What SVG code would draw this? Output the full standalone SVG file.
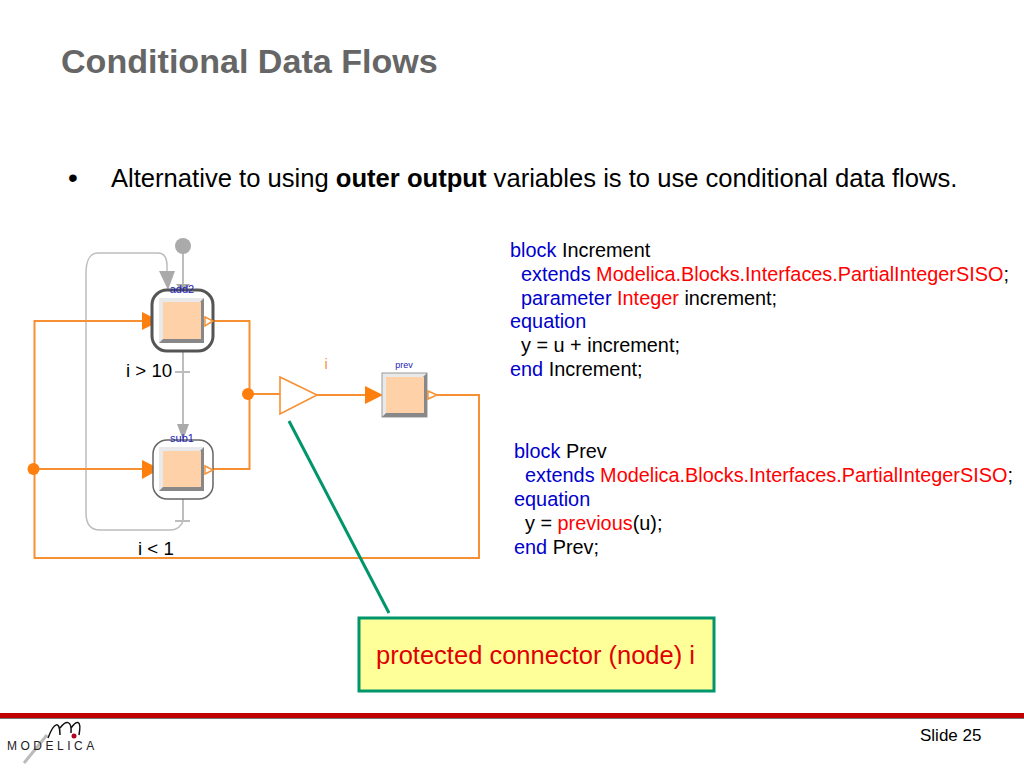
<svg xmlns="http://www.w3.org/2000/svg" width="1024" height="768" viewBox="0 0 1024 768">
<style>
text{font-family:"Liberation Sans",Arial,sans-serif}
.t{font-size:19.880px;fill:#000}
.b{fill:#0000cc}
.r{fill:#ff0000}
.or{fill:none;stroke:#f79032;stroke-width:2}
.gr{fill:none;stroke:#bdbdbd;stroke-width:2}
.ah{fill:#ff7f0e}
.gah{fill:#aaaaaa}
.dot{fill:#ff7f0e}
.face{fill:#ffd1a8}
.nm{font-size:11px;fill:#2222bb;text-anchor:middle}
.lab{font-size:18.700px;fill:#000}
.op{fill:#fff;stroke:#f79032;stroke-width:1.5}
</style>
<rect width="1024" height="768" fill="#fff"/>
<text x="61" y="73" font-size="34.100" font-weight="bold" fill="#666666">Conditional Data Flows</text>
<text x="68" y="187" font-size="28" fill="#000">•</text>
<text x="111" y="187" font-size="25.600" fill="#000">Alternative to using <tspan font-weight="bold">outer output</tspan> variables is to use conditional data flows.</text>

<g id="connectors">
<path class="gr" stroke-width="1.500" style="stroke-width:1.500" d="M86 513V273C86 261 90 253 98 253H158C164 253 167 258 167 266V272M86 513C86 524 90 530 100 530H170C177 530 181 527 183 521"/>
<path class="gr" d="M183 246V290M183 351V440M183 499V521"/>
<path class="gr" d="M175 372H190M175 521H190"/>
<path class="or" d="M143 321H34.500V558H479V395H437"/>
<path class="or" d="M34 469H143"/>
<path class="or" d="M213 321H249.500V469H213"/>
<path class="or" d="M249 394H280M317 395H365"/>
<polygon class="gah" points="159,271 175,271 168,290"/>
<polygon class="gah" points="176,284 190,284 183,293"/>
<polygon class="gah" points="177,424 189,424 183,440"/>
<polygon class="ah" points="142,312 160,321 142,330"/>
<polygon class="ah" points="142,460 160,469 142,479"/>
<polygon class="ah" points="365,386 383,395 365,404"/>
<circle class="gah" cx="183" cy="246" r="8"/>
<circle class="dot" cx="248" cy="394" r="6"/>
<circle class="dot" cx="33.500" cy="469" r="6"/>
<path d="M289 421L389 613" fill="none" stroke="#00956b" stroke-width="3"/>
</g>

<g id="add2">
<rect x="152" y="290" width="61" height="61" rx="15" fill="#fff" stroke="#555" stroke-width="3"/>
<rect x="159" y="298" width="45" height="45" fill="#e9e9e9"/>
<path d="M204 298V343H159L163 339H200V302Z" fill="#888"/>
<rect x="163" y="302" width="38" height="37" class="face"/>
<polygon class="op" points="205,317 213,321 205,326"/>
<text class="nm" x="182" y="293">add2</text>
</g>
<g id="sub1">
<rect x="153" y="440" width="60" height="59" rx="14" fill="#fff" stroke="#666" stroke-width="1.500"/>
<rect x="159" y="447" width="45" height="44" fill="#e9e9e9"/>
<path d="M204 447V491H159L163 487H200V451Z" fill="#888"/>
<rect x="163" y="451" width="38" height="36" class="face"/>
<polygon class="op" points="205,466 213,470 205,474"/>
<text class="nm" x="182" y="442">sub1</text>
</g>
<g id="i">
<polygon points="280,377 317,395 280,414" fill="#fff" stroke="#f79032" stroke-width="1.600"/>
<text x="326" y="369" font-size="14" fill="#f79032" text-anchor="middle">i</text>
</g>
<g id="prev">
<rect x="382" y="373" width="45" height="44" fill="#e9e9e9" stroke="#999" stroke-width="1"/>
<path d="M427 373V417H382L386 413H423V377Z" fill="#888"/>
<rect x="386" y="377" width="38" height="36" class="face"/>
<polygon class="op" points="428,391 437,395 428,399"/>
<text class="nm" x="404" y="368" style="font-size:9px">prev</text>
</g>
<text class="lab" x="126" y="377">i &gt; 10</text>
<text class="lab" x="138" y="555">i &lt; 1</text>

<g id="code1">
<text class="t" x="510" y="257"><tspan class="b">block</tspan> Increment</text>
<text class="t" x="521" y="281"><tspan class="b">extends</tspan> <tspan class="r">Modelica.Blocks.Interfaces.PartialIntegerSISO</tspan>;</text>
<text class="t" x="521" y="305"><tspan class="b">parameter</tspan> <tspan class="r">Integer</tspan> increment;</text>
<text class="t" x="510" y="328"><tspan class="b">equation</tspan></text>
<text class="t" x="521" y="352">y = u + increment;</text>
<text class="t" x="510" y="376"><tspan class="b">end</tspan> Increment;</text>
</g>
<g id="code2">
<text class="t" x="514" y="458"><tspan class="b">block</tspan> Prev</text>
<text class="t" x="525" y="482"><tspan class="b">extends</tspan> <tspan class="r">Modelica.Blocks.Interfaces.PartialIntegerSISO</tspan>;</text>
<text class="t" x="514" y="506"><tspan class="b">equation</tspan></text>
<text class="t" x="525" y="530">y = <tspan class="r">previous</tspan>(u);</text>
<text class="t" x="514" y="554"><tspan class="b">end</tspan> Prev;</text>
</g>
<g id="note">
<rect x="359" y="618" width="355" height="73" fill="#ffff99" stroke="#00956b" stroke-width="3"/>
<text x="376" y="664" font-size="25.500" fill="#e00000">protected connector (node) i</text>
</g>
<g id="footer">
<rect x="0" y="713" width="1024" height="5" fill="#c00000"/>
<rect x="0" y="718" width="1024" height="1" fill="#777"/>
<text x="920" y="741" font-size="17" fill="#000">Slide 25</text>
<path d="M24 763L47 735" stroke="#bbb" stroke-width="3" fill="none"/>
<path d="M48 738C54 722 60 720 60 735M60 728C66 720 72 720 71 733M71 728C76 721 82 718 79 735" stroke="#111" stroke-width="1.500" fill="none"/>
<circle cx="74" cy="736" r="2.500" fill="#b00020"/>
<text x="7" y="750" font-size="12" fill="#222" letter-spacing="3.500" font-family="Liberation Mono">MODELICA</text>
</g>
</svg>
